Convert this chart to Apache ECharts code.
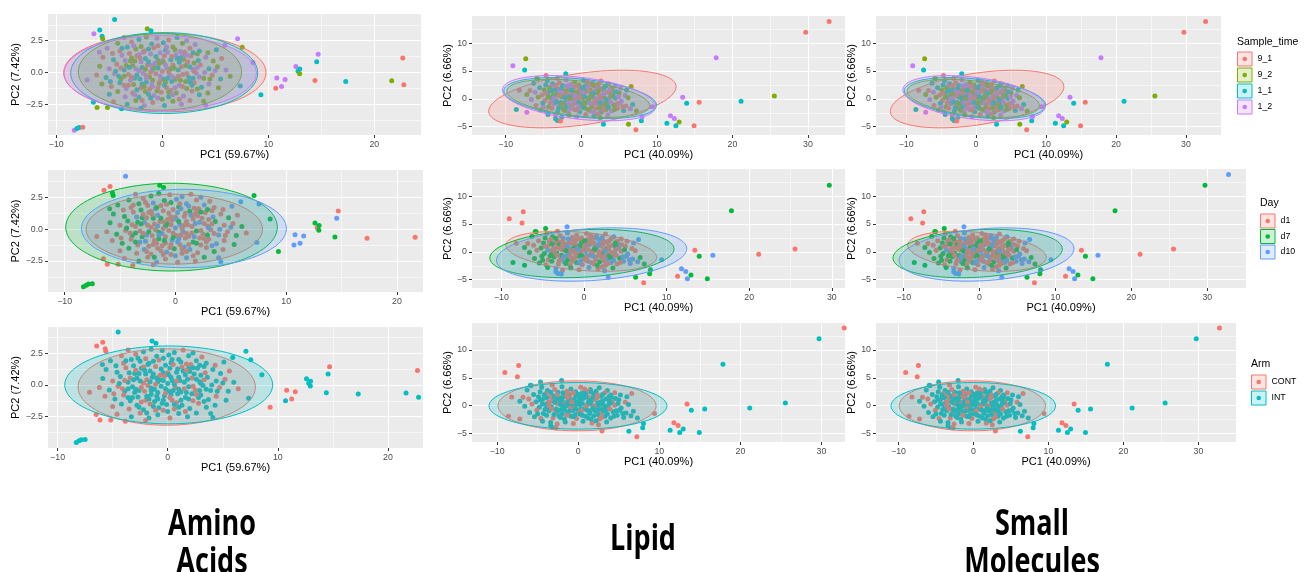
<!DOCTYPE html>
<html>
<head>
<meta charset="utf-8">
<script src="https://cdn.jsdelivr.net/npm/echarts@6.0.0/dist/echarts.min.js"></script>
<style>
html, body { margin: 0; padding: 0; background: #fff; }
#chart { width: 1307px; height: 572px; }
</style>
</head>
<body>
<div id="chart"></div>
<script>
// groups + ggplot default hues
const timeGroups = ['9_1', '9_2', '1_1', '1_2'];
const dayGroups = ['d1', 'd7', 'd10'];
const armGroups = ['CONT', 'INT'];
const timeColors = ['#F8766D', '#7CAE00', '#00BFC4', '#C77CFF'];
const dayColors = ['#F8766D', '#00BA38', '#619CFF'];
const armColors = ['#F8766D', '#00BFC4'];

// PCA scores: [PC1, PC2, sample_time, day, arm]
const aminoScores = [
  [-3.6, 2.75, 0,0,0], [-2.2, 2.6, 2,1,1], [-1.5, 2.8, 1,1,1], [-0.5, 2.7, 3,0,1], [0.6, 2.55, 0,2,1],
  [1.4, 2.75, 2,0,0], [2.3, 2.5, 3,2,1], [-4.2, 2.3, 1,1,0], [-2.9, 2.4, 0,0,0], [0.1, 2.35, 2,2,1],
  [1.9, 2.3, 1,0,1], [3.1, 2.2, 3,0,0], [-1.0, 2.25, 2,1,1], [-5.2, 1.9, 3,1,1], [-4.0, 1.7, 0,0,0],
  [-3.3, 2.0, 2,1,1], [-2.5, 1.85, 1,0,1], [-1.8, 1.6, 3,2,1], [-0.8, 1.95, 0,0,0], [0.3, 1.75, 2,1,1],
  [1.0, 2.0, 1,2,1], [1.7, 1.65, 3,0,0], [2.6, 1.9, 0,2,1], [3.5, 1.7, 2,0,1], [4.3, 1.55, 1,0,0],
  [-0.2, 1.55, 3,0,1], [5.1, 1.8, 2,2,1], [-5.6, 1.2, 0,1,1], [-4.6, 1.0, 2,1,1], [-3.8, 1.35, 3,0,0],
  [-3.0, 0.9, 1,1,1], [-2.4, 1.3, 0,0,1], [-1.6, 1.1, 2,2,1], [-1.1, 1.45, 3,0,0], [-0.4, 0.95, 1,0,1],
  [0.2, 1.3, 0,2,1], [0.8, 1.0, 2,0,1], [1.3, 1.4, 3,1,0], [2.0, 1.05, 1,0,1], [2.7, 1.3, 0,0,1],
  [3.4, 0.95, 2,2,0], [4.1, 1.2, 3,0,1], [4.8, 0.9, 1,1,1], [5.6, 1.1, 0,0,0], [-2.0, 0.85, 3,1,1],
  [1.6, 0.8, 2,0,1], [-5.9, 0.5, 1,1,1], [-5.0, 0.3, 3,0,0], [-4.3, 0.65, 0,1,1], [-3.6, 0.2, 2,0,1],
  [-2.8, 0.55, 1,2,1], [-2.2, 0.15, 3,0,0], [-1.4, 0.6, 0,0,1], [-0.9, 0.25, 2,1,1], [-0.3, 0.7, 1,0,0],
  [0.4, 0.35, 3,2,1], [1.0, 0.6, 0,0,1], [1.5, 0.2, 2,0,1], [2.2, 0.55, 1,2,0], [2.9, 0.25, 3,0,1],
  [3.6, 0.6, 0,1,1], [4.4, 0.3, 2,0,1], [5.2, 0.45, 1,0,0], [6.0, 0.2, 3,1,1], [0.0, 0.1, 0,2,1],
  [-1.9, 0.4, 2,0,0], [-6.2, -0.2, 0,0,0], [-5.3, -0.4, 2,1,1], [-4.5, -0.1, 3,0,0], [-3.9, -0.5, 1,1,1],
  [-3.2, -0.15, 0,0,1], [-2.6, -0.45, 2,2,1], [-1.8, -0.05, 3,0,0], [-1.2, -0.35, 1,2,1], [-0.6, -0.1, 0,0,1],
  [0.1, -0.5, 2,0,1], [0.7, -0.2, 3,2,0], [1.2, -0.55, 1,0,1], [1.9, -0.15, 0,1,1], [2.5, -0.4, 2,0,0],
  [3.2, -0.05, 3,0,1], [3.9, -0.45, 1,2,1], [4.7, -0.2, 0,0,0], [5.5, -0.5, 2,1,1], [6.4, -0.3, 1,0,0],
  [-0.2, -0.3, 3,0,1], [-5.7, -0.9, 1,0,0], [-4.8, -1.1, 0,1,1], [-4.0, -0.8, 2,0,0], [-3.4, -1.25, 3,0,1],
  [-2.7, -0.95, 1,2,1], [-2.0, -1.2, 0,0,0], [-1.5, -0.75, 2,1,1], [-0.9, -1.1, 3,0,1], [-0.3, -0.85, 1,2,1],
  [0.4, -1.2, 0,0,0], [0.9, -0.7, 2,0,1], [1.6, -1.0, 3,1,1], [2.3, -1.25, 1,0,0], [3.0, -0.8, 0,0,1],
  [3.7, -1.15, 2,2,1], [4.4, -0.9, 3,0,0], [5.3, -1.2, 1,1,1], [-1.2, -1.3, 0,0,1], [-5.0, -1.7, 2,0,0],
  [-4.2, -1.5, 1,1,1], [-3.5, -1.9, 3,0,0], [-2.8, -1.6, 0,2,1], [-2.2, -1.95, 2,0,1], [-1.6, -1.5, 1,0,0],
  [-0.8, -1.8, 3,2,1], [-0.1, -1.55, 0,1,1], [0.6, -1.9, 2,0,0], [1.3, -1.6, 1,2,1], [2.0, -1.85, 3,0,1],
  [2.8, -1.45, 0,0,0], [3.5, -1.75, 2,1,1], [4.3, -1.6, 1,0,1], [-0.4, -2.0, 3,0,0], [-4.6, -2.3, 0,0,0],
  [-3.3, -2.5, 2,1,1], [-2.5, -2.2, 1,0,0], [-1.7, -2.6, 3,2,1], [-0.9, -2.35, 0,0,1], [0.2, -2.6, 2,0,0],
  [1.0, -2.25, 1,2,1], [1.8, -2.5, 3,0,1], [2.6, -2.2, 0,1,1], [-2.0, -2.8, 2,0,0], [-2.6, 0.9, 1,0,1],
  [-1.7, 1.7, 0,1,1], [-0.6, 1.25, 2,0,1], [0.5, 1.6, 3,2,0], [1.1, 0.35, 1,0,1], [2.4, 0.85, 0,0,1],
  [-2.4, -0.2, 2,1,0], [-1.0, 0.55, 3,0,1], [0.3, -0.75, 1,2,1], [1.5, -0.3, 0,0,0], [2.8, -1.0, 2,0,1],
  [-3.0, -0.6, 3,1,1], [-0.5, -1.45, 1,0,1], [0.8, -1.4, 0,2,0], [-1.9, -0.9, 2,0,1], [1.9, 1.3, 3,0,1],
  [-3.4, 0.55, 1,1,0], [3.0, 0.1, 0,2,1], [-1.3, -1.7, 2,0,1], [0.0, 0.95, 3,0,0], [-0.7, 0.4, 1,1,1],
  [0.6, 0.05, 0,0,1], [1.4, 1.1, 2,2,1], [-2.2, 1.4, 3,0,0], [2.2, -0.7, 1,0,1], [-1.5, -0.25, 0,1,1],
  [-4.1, -0.3, 2,0,0], [4.0, 0.0, 3,2,1], [3.3, 1.45, 1,0,1], [-3.6, -1.0, 0,1,1],
  [-3.8, 1.9, 2,0,1], [-3.1, 1.5, 0,1,1], [-2.7, 2.1, 3,0,1], [-2.0, 2.05, 1,2,0], [-1.3, 1.85, 2,0,1],
  [-0.4, 2.1, 0,1,1], [0.4, 2.0, 3,0,1], [1.2, 1.8, 1,2,1], [2.1, 1.6, 0,0,0], [2.9, 1.55, 2,1,1],
  [-3.5, 0.95, 3,2,1], [-2.9, 1.15, 1,0,0], [-2.1, 1.15, 0,0,1], [-1.3, 0.85, 2,1,1], [-0.7, 0.75, 3,0,0],
  [0.1, 0.8, 1,2,1], [0.9, 1.25, 0,0,1], [1.7, 1.15, 2,0,0], [2.3, 1.35, 3,1,1], [3.0, 0.75, 1,0,1],
  [-3.9, 0.35, 0,0,0], [-3.1, 0.4, 2,1,1], [-2.5, 0.3, 3,0,1], [-1.6, 0.25, 1,2,1], [-1.1, 0.05, 0,0,0],
  [-0.4, 0.35, 2,0,1], [0.3, 0.6, 3,1,1], [0.8, 0.3, 1,0,0], [1.8, 0.45, 0,2,1], [2.6, 0.45, 2,0,1],
  [3.3, 0.4, 3,0,0], [-3.6, -0.3, 1,1,1], [-2.9, -0.35, 0,0,1], [-2.1, -0.5, 2,0,0], [-1.5, -0.45, 3,2,1],
  [-0.9, -0.6, 1,0,1], [-0.2, -0.65, 0,1,0], [0.5, -0.45, 2,0,1], [1.0, -0.35, 3,0,1], [1.7, -0.6, 1,2,1],
  [2.3, -0.1, 0,0,0], [2.9, -0.45, 2,1,1], [3.5, -0.35, 3,0,1], [-3.2, -1.0, 0,2,1], [-2.4, -1.35, 2,0,0],
  [-1.7, -1.1, 1,0,1], [-1.0, -0.9, 3,1,1], [-0.4, -1.2, 0,0,1], [0.2, -1.0, 2,2,0], [0.6, -1.55, 1,0,1],
  [1.2, -1.2, 3,0,1], [1.9, -1.1, 0,1,1], [2.6, -0.75, 2,0,0], [3.3, -1.3, 1,2,1], [-2.6, -1.75, 3,0,1],
  [-1.9, -2.2, 0,1,1], [-1.1, -2.0, 2,0,0], [0.0, -2.1, 1,2,1], [1.0, -1.75, 3,0,1], [1.6, -2.1, 0,0,0],
  [-4.4, 0.1, 2,1,1], [-4.7, 1.5, 0,0,1], [4.5, -0.5, 1,0,1], [5.0, 0.15, 3,2,1], [-4.9, -0.7, 2,0,0],
  // outlying samples
  [-4.5, 4.16, 2,2,1], [-6.45, 3.05, 3,0,0], [-5.9, 3.35, 2,0,0], [-5.68, 2.85, 2,1,0], [-5.62, 2.65, 1,1,0],
  [-1.42, 3.45, 1,1,1], [-1.07, 3.28, 2,1,1], [7.1, 2.65, 3,1,1], [7.54, 1.98, 1,2,1], [5.9, 2.15, 3,2,1],
  [8.55, 0.79, 3,1,1], [9.3, -1.75, 2,1,0], [10.8, -0.43, 3,2,0], [10.7, -1.24, 0,2,1], [11.25, -1.1, 3,2,0],
  [11.58, -0.54, 3,2,0], [12.6, 0.48, 3,1,1], [12.8, 0.12, 2,0,1], [12.97, 0.28, 2,1,1], [12.95, -0.09, 1,1,1],
  [14.4, -0.62, 0,1,1], [14.56, 0.85, 2,2,1], [14.7, 1.43, 3,0,0], [17.3, -0.71, 2,0,1], [21.64, -0.64, 1,0,1],
  [22.68, 1.14, 0,0,0], [22.78, -0.97, 0,0,1], [-8.3, -4.53, 3,1,1], [-8.05, -4.4, 2,1,1], [-7.85, -4.32, 2,1,1],
  [-7.5, -4.3, 0,1,1], [-7.1, -0.58, 3,0,0], [-6.5, -2.33, 2,0,0], [-6.15, -2.75, 1,0,0], [-5.17, -2.75, 1,0,0],
  [-3.85, -2.85, 2,0,0], [-5.93, 1.6, 3,1,1], [7.35, -1.05, 2,2,1], [3.9, -2.25, 1,2,1], [4.1, -2.57, 3,2,1]
];

const lipidScores = [
  [-5.8, 3.6, 1,1,1], [-4.5, 3.3, 2,0,1], [-3.2, 3.7, 0,0,0], [-2.0, 3.4, 3,2,1], [-0.9, 3.0, 1,0,1],
  [0.3, 3.3, 2,0,0], [1.5, 2.9, 3,2,1], [2.6, 3.2, 0,0,1], [-3.8, 2.7, 2,1,1], [-1.4, 2.6, 3,0,0],
  [0.9, 2.6, 1,0,1], [3.6, 2.7, 0,2,1], [4.5, 2.3, 3,0,0], [-6.3, 2.8, 2,1,1], [-6.8, 1.5, 0,0,0],
  [-5.5, 2.0, 2,0,1], [-4.9, 1.6, 1,1,1], [-4.0, 2.2, 3,0,0], [-3.1, 1.8, 0,0,1], [-2.5, 2.4, 2,2,1],
  [-1.8, 1.6, 1,0,1], [-1.0, 2.1, 3,0,0], [-0.3, 1.7, 0,1,1], [0.5, 2.3, 2,0,1], [1.2, 1.6, 1,0,0],
  [2.0, 2.2, 3,2,1], [2.8, 1.7, 0,0,1], [3.3, 2.3, 2,0,0], [4.1, 1.5, 1,2,1], [5.2, 1.9, 3,0,1],
  [-2.9, 2.9, 0,0,0], [6.0, 1.6, 2,2,1], [-7.2, 0.8, 1,1,1], [-6.1, 1.2, 3,0,0], [-5.2, 0.7, 0,1,1],
  [-4.4, 1.1, 2,0,1], [-3.7, 0.6, 1,0,0], [-3.0, 1.3, 3,1,1], [-2.3, 0.9, 0,0,1], [-1.6, 0.5, 2,2,1],
  [-0.8, 1.2, 1,0,0], [-0.1, 0.7, 3,0,1], [0.6, 1.3, 0,2,1], [1.3, 0.8, 2,0,1], [2.0, 1.1, 1,0,0],
  [2.7, 0.6, 3,1,1], [3.4, 1.2, 0,0,1], [4.2, 0.7, 2,2,0], [5.0, 1.0, 1,0,1], [5.8, 0.6, 3,0,0],
  [-1.2, 1.0, 0,1,1], [0.2, 0.6, 2,0,1], [-6.6, -0.1, 3,1,1], [-5.7, 0.3, 1,0,0], [-4.8, -0.3, 0,1,1],
  [-4.0, 0.2, 2,0,1], [-3.3, -0.2, 3,1,1], [-2.6, 0.4, 1,0,0], [-1.9, -0.1, 0,2,1], [-1.2, 0.3, 2,0,1],
  [-0.5, -0.3, 3,0,0], [0.2, 0.1, 1,2,1], [0.9, -0.4, 0,0,1], [1.6, 0.3, 2,0,1], [2.3, -0.2, 3,1,0],
  [3.0, 0.4, 1,0,1], [3.7, -0.3, 0,2,1], [4.5, 0.1, 2,0,0], [5.3, -0.4, 3,2,1], [6.2, 0.2, 1,0,1],
  [-0.9, 0.0, 0,0,1], [1.1, 0.2, 2,1,0], [-6.0, -1.2, 0,1,1], [-5.1, -0.8, 2,1,0], [-4.3, -1.4, 1,0,1],
  [-3.6, -0.9, 3,1,1], [-2.8, -1.2, 0,0,0], [-2.1, -0.7, 2,2,1], [-1.4, -1.3, 1,0,1], [-0.7, -0.8, 3,1,1],
  [0.0, -1.1, 0,0,0], [0.7, -0.6, 2,2,1], [1.4, -1.4, 1,0,1], [2.1, -0.9, 3,0,1], [2.8, -1.3, 0,2,0],
  [3.5, -0.7, 2,0,1], [4.3, -1.1, 1,1,1], [5.1, -0.8, 3,2,1], [5.9, -1.3, 0,2,1], [6.8, -1.0, 2,1,1],
  [-5.4, -2.0, 1,1,1], [-4.6, -2.3, 3,0,0], [-3.9, -1.7, 0,1,1], [-3.1, -2.2, 2,0,0], [-2.4, -1.8, 1,2,1],
  [-1.7, -2.4, 3,0,1], [-0.9, -1.9, 0,1,1], [-0.2, -2.3, 2,0,0], [0.5, -1.7, 1,2,1], [1.2, -2.2, 3,0,1],
  [1.9, -1.8, 0,1,1], [2.6, -2.4, 2,0,0], [3.3, -1.9, 1,2,1], [4.0, -2.2, 3,0,1], [4.8, -1.7, 0,2,1],
  [5.6, -2.1, 2,2,1], [6.5, -1.8, 3,2,1], [7.3, -2.2, 1,1,1], [-3.4, -3.0, 0,2,1], [-2.6, -3.3, 2,0,0],
  [-1.6, -2.9, 1,1,1], [-0.6, -3.2, 3,0,0], [0.6, -2.8, 0,2,1], [1.7, -3.1, 2,0,0], [2.5, -3.4, 1,2,0],
  [3.5, -2.9, 3,1,1], [-4.4, -2.8, 2,1,1], [2.2, -2.7, 0,0,1], [-2.2, 1.4, 1,0,1], [-1.5, 2.0, 3,0,0],
  [-0.6, 0.4, 0,2,1], [0.4, 1.8, 2,0,1], [1.0, -0.1, 1,0,0], [1.8, 1.5, 3,2,1], [2.4, 0.5, 0,0,1],
  [-2.7, -0.6, 2,1,1], [-1.0, -0.5, 3,0,0], [0.3, -0.7, 1,2,1], [1.5, -0.9, 0,0,1], [-3.5, 1.6, 2,0,0],
  [3.0, -0.6, 3,1,1], [-0.3, 2.5, 1,0,1], [2.2, 2.6, 0,2,1], [-1.9, 0.7, 2,0,0], [-3.9, -0.5, 3,1,1],
  [4.0, 1.9, 1,0,1], [0.8, 3.0, 0,0,0], [-4.7, 2.5, 2,1,1], [-0.4, -1.6, 3,2,1], [2.4, -1.6, 1,0,1],
  [1.3, 2.6, 0,0,0], [-2.0, -1.5, 2,1,1], [3.8, 0.4, 3,0,1],
  [-4.2, 1.9, 1,0,1], [-3.4, 2.4, 0,1,1], [-2.6, 1.9, 2,0,0], [-1.9, 2.3, 3,2,1], [-1.2, 1.6, 1,0,1],
  [-0.6, 2.3, 0,0,0], [0.1, 2.0, 2,1,1], [0.9, 2.1, 3,0,1], [1.6, 2.4, 1,2,1], [2.4, 1.9, 0,0,0],
  [3.0, 2.0, 2,0,1], [3.8, 1.6, 3,1,1], [-4.7, 1.0, 0,0,1], [-3.9, 1.4, 2,1,1], [-3.3, 0.8, 1,0,0],
  [-2.6, 1.2, 3,0,1], [-2.0, 1.0, 0,2,1], [-1.3, 1.5, 2,0,0], [-0.5, 1.0, 1,1,1], [0.2, 1.2, 3,0,1],
  [0.9, 1.5, 0,0,1], [1.6, 1.0, 2,2,1], [2.3, 1.4, 1,0,0], [3.0, 0.9, 3,0,1], [3.8, 1.1, 0,1,1],
  [4.6, 1.3, 2,0,1], [-4.4, 0.3, 1,2,1], [-3.6, 0.1, 3,0,0], [-2.9, 0.6, 0,0,1], [-2.2, 0.2, 2,1,1],
  [-1.5, 0.0, 1,0,1], [-0.8, 0.6, 3,2,0], [-0.2, 0.3, 0,0,1], [0.5, 0.4, 2,0,1], [1.3, 0.5, 1,1,1],
  [1.9, 0.0, 3,0,0], [2.6, 0.1, 0,2,1], [3.3, -0.1, 2,0,1], [4.0, 0.5, 1,0,1], [4.9, 0.4, 3,1,1],
  [-4.1, -0.7, 0,1,1], [-3.3, -0.6, 2,0,0], [-2.5, -0.9, 1,2,1], [-1.7, -0.7, 3,0,1], [-1.1, -1.0, 0,0,1],
  [-0.3, -0.6, 2,1,1], [0.4, -0.9, 1,0,0], [1.1, -0.8, 3,2,1], [1.8, -0.4, 0,0,1], [2.5, -0.7, 2,0,1],
  [3.2, -1.0, 1,1,1], [3.9, -0.6, 3,0,0], [4.7, -0.9, 0,2,1], [-3.0, -1.6, 2,0,1], [-2.2, -2.1, 1,1,1],
  [-1.4, -1.7, 3,0,0], [-0.6, -2.0, 0,2,1], [0.2, -1.5, 2,0,1], [0.9, -1.9, 1,0,1], [1.6, -2.4, 3,1,1],
  [2.9, -2.1, 0,0,0], [3.6, -1.5, 2,2,1], [4.4, -1.9, 1,0,1], [-5.0, -1.5, 3,1,1], [5.5, -1.4, 0,2,1],
  // outlying samples
  [32.8, 13.9, 0,2,0], [29.7, 12.0, 0,1,1], [17.85, 7.4, 3,1,1], [-7.35, 7.2, 1,0,0], [-9.05, 5.95, 3,0,0],
  [-7.5, 5.18, 2,0,0], [-4.65, 4.22, 0,1,1], [-2.05, 4.5, 2,2,1], [25.55, 0.5, 1,0,1], [21.15, -0.42, 2,0,1],
  [15.6, -0.6, 0,2,1], [13.95, -0.8, 2,1,1], [13.42, 0.3, 3,0,0], [11.8, -3.04, 3,2,0], [12.32, -3.53, 3,2,0],
  [12.95, -4.16, 1,1,1], [11.33, -4.4, 2,0,1], [12.52, -4.82, 2,2,1], [14.93, -4.82, 0,1,1], [7.23, -5.56, 0,0,0],
  [6.25, -4.58, 1,1,1], [2.93, -4.55, 2,2,0], [7.95, -3.95, 2,1,1], [8.05, -3.2, 3,1,1], [9.4, -1.4, 3,2,0],
  [6.6, 2.2, 1,2,0], [-8.6, -1.9, 2,1,0], [-8.2, 1.55, 0,0,0], [-7.2, -2.4, 3,1,0], [-3.15, -3.9, 2,2,1],
  [-2.75, -4.0, 0,2,0], [-5.9, 3.65, 1,1,1], [-3.4, -3.6, 2,2,1]
];

// 95% ellipses per grouping: [cx, cy, ax, ay, bx, by] (conjugate semi-axes)
const aminoTimeEllipses = [[0.24, -0.01, 9.54, 0, 0, 3.08], [-0.22, 0.05, 7.7, 0, 0, 3.01], [0.18, -0.04, 8.82, 0, 0, 3.18], [-0.2, -0.05, 9.07, 0, 0, 2.95]];
const aminoDayEllipses = [[-0.1, 0.0, 7.96, 0, 0, 2.75], [-0.35, 0.16, 9.55, 0, 0, 3.45], [0.77, 0.05, 9.25, 0, 0, 3.08]];
const aminoArmEllipses = [[-0.09, -0.17, 8.05, 0, 0, 3.0], [0.09, 0.0, 9.44, 0, 0, 3.06]];
const lipidTimeEllipses = [[0.15, -0.03, 12.4, 2.2, 0, 4.69], [-0.4, 0.08, 9.45, -1.3, 0, 3.17], [-0.15, 0.15, 10.1, -1.3, 0, 3.44], [-0.3, 0.12, 10.15, -1.5, 0, 3.78]];
const lipidDayEllipses = [[-0.33, 0.1, 9.13, -1.1, 0, 3.43], [-0.25, -0.3, 11.15, 0.81, 0, 4.27], [0.92, -0.48, 11.52, 1.05, 0, 4.68]];
const lipidArmEllipses = [[-0.15, -0.03, 9.75, 0, 0, 4.47], [-0.03, -0.03, 10.97, 0, 0, 4.17]];

// tick breaks
const aminoXTicks = [-10, 0, 10, 20];
const aminoYTicks = [-2.5, 0, 2.5];
const aminoXMinor = [-5, 5, 15];
const aminoYMinor = [-3.75, -1.25, 1.25, 3.75];
const lipidXTicks = [-10, 0, 10, 20, 30];
const lipidYTicks = [-5, 0, 5, 10];
const lipidXMinor = [-5, 5, 15, 25];
const lipidYMinor = [-2.5, 2.5, 7.5, 12.5];

const FONT = '"Liberation Sans", Arial, sans-serif';

const sets = {
  amino: { scores: aminoScores, xt: aminoXTicks, yt: aminoYTicks, xm: aminoXMinor, ym: aminoYMinor, yDigits: 1,
           xName: 'PC1 (59.67%)', yName: 'PC2 (7.42%)', ell: { time: aminoTimeEllipses, day: aminoDayEllipses, arm: aminoArmEllipses } },
  lipid: { scores: lipidScores, xt: lipidXTicks, yt: lipidYTicks, xm: lipidXMinor, ym: lipidYMinor, yDigits: 0,
           xName: 'PC1 (40.09%)', yName: 'PC2 (6.66%)', ell: { time: lipidTimeEllipses, day: lipidDayEllipses, arm: lipidArmEllipses } }
};
const groupings = {
  time: { col: 2, colors: timeColors },
  day: { col: 3, colors: dayColors },
  arm: { col: 4, colors: armColors }
};

// panel layout: grid rect [left, top, width, height], axis ranges
const panels = [
  { rect: [48, 14, 373, 121], x: [-10.78, 24.4], y: [-4.91, 4.6], set: 'amino', by: 'time', yGap: 25 },
  { rect: [472, 16, 373, 119], x: [-14.46, 34.9], y: [-6.5, 14.9], set: 'lipid', by: 'time', yGap: 17 },
  { rect: [876, 16, 345, 119], x: [-14.3, 35.0], y: [-6.5, 14.9], set: 'lipid', by: 'time', yGap: 16 },
  { rect: [48, 170, 375, 122], x: [-11.5, 22.35], y: [-4.94, 4.65], set: 'amino', by: 'day', yGap: 25 },
  { rect: [472, 169, 373, 119], x: [-13.56, 31.6], y: [-6.5, 14.9], set: 'lipid', by: 'day', yGap: 17 },
  { rect: [876, 169, 370, 119], x: [-13.64, 35.1], y: [-6.5, 14.9], set: 'lipid', by: 'day', yGap: 16 },
  { rect: [48, 327, 375, 121], x: [-10.87, 23.18], y: [-4.96, 4.55], set: 'amino', by: 'arm', yGap: 25 },
  { rect: [472, 323, 373, 119], x: [-13.1, 32.9], y: [-6.5, 14.8], set: 'lipid', by: 'arm', yGap: 17 },
  { rect: [876, 323, 360, 119], x: [-13.0, 35.0], y: [-6.5, 14.8], set: 'lipid', by: 'arm', yGap: 16 }
];

function fmtNum(v, digits) {
  const s = Math.abs(v).toFixed(digits);
  return v < 0 ? '\u2212' + s : s;
}
function rgba(hex, a) {
  const n = parseInt(hex.slice(1), 16);
  return 'rgba(' + (n >> 16) + ',' + ((n >> 8) & 255) + ',' + (n & 255) + ',' + a + ')';
}

function majorAxis(gi, range, ticks, digits, name, gap) {
  return {
    type: 'value', gridIndex: gi, min: range[0], max: range[1],
    name: name, nameLocation: 'middle', nameGap: gap,
    nameTextStyle: { color: '#000', fontSize: 11, fontFamily: FONT },
    axisLine: { show: false, onZero: false },
    axisTick: { show: true, length: 3, lineStyle: { color: '#333', width: 1 }, customValues: ticks },
    axisLabel: { color: '#4D4D4D', fontSize: 8.8, fontFamily: FONT, margin: 5, customValues: ticks,
                 formatter: v => fmtNum(v, digits) },
    splitLine: { show: true, lineStyle: { color: '#FFFFFF', width: 1.1 } }
  };
}
function minorAxis(gi, range, ticks) {
  return {
    type: 'value', gridIndex: gi, min: range[0], max: range[1],
    axisLine: { show: false, onZero: false },
    axisTick: { show: false, customValues: ticks },
    axisLabel: { show: false, customValues: ticks },
    splitLine: { show: true, lineStyle: { color: '#FFFFFF', width: 0.55 } }
  };
}

function ellipseSeries(p, e, color) {
  return {
    type: 'custom', xAxisIndex: 2 * p, yAxisIndex: 2 * p, z: 3, silent: true, clip: true,
    data: [e],
    renderItem: function (params, api) {
      const pts = [];
      for (let k = 0; k < 96; k++) {
        const t = k / 96 * Math.PI * 2;
        pts.push(api.coord([
          api.value(0) + api.value(2) * Math.cos(t) + api.value(4) * Math.sin(t),
          api.value(1) + api.value(3) * Math.cos(t) + api.value(5) * Math.sin(t)
        ]));
      }
      return { type: 'polygon', shape: { points: pts },
               style: { fill: rgba(color, 0.2), stroke: color, lineWidth: 1 } };
    }
  };
}

const grid = [], xAxis = [], yAxis = [], series = [];
panels.forEach((pn, p) => {
  const ds = sets[pn.set], gp = groupings[pn.by];
  grid.push({ left: pn.rect[0], top: pn.rect[1], width: pn.rect[2], height: pn.rect[3],
              show: true, backgroundColor: '#EBEBEB', borderWidth: 0, outerBoundsMode: 'none' });
  xAxis.push(majorAxis(p, pn.x, ds.xt, 0, ds.xName, 14));
  xAxis.push(minorAxis(p, pn.x, ds.xm));
  yAxis.push(majorAxis(p, pn.y, ds.yt, ds.yDigits, ds.yName, pn.yGap));
  yAxis.push(minorAxis(p, pn.y, ds.ym));
  series.push({
    type: 'scatter', xAxisIndex: 2 * p, yAxisIndex: 2 * p, z: 2, clip: true, silent: true,
    symbolSize: 5,
    data: ds.scores.map(r => ({ value: [r[0], r[1]], itemStyle: { color: gp.colors[r[gp.col]], opacity: 1 } }))
  });
  ds.ell[pn.by].forEach((e, g) => series.push(ellipseSeries(p, e, gp.colors[g])));
});

// legends (ggplot-style keys) and bottom titles
const legends = [
  { title: 'Sample_time', names: timeGroups, colors: timeColors, x: 1237, titleY: 42, rows: [59, 75, 91, 107] },
  { title: 'Day', names: dayGroups, colors: dayColors, x: 1260, titleY: 203, rows: [221, 236.5, 252] },
  { title: 'Arm', names: armGroups, colors: armColors, x: 1251, titleY: 364, rows: [382, 398] }
];
const graphic = [];
legends.forEach(lg => {
  graphic.push({ type: 'text', x: lg.x, y: lg.titleY, silent: true,
    style: { text: lg.title, fill: '#000', font: '10.5px ' + FONT, textAlign: 'left', verticalAlign: 'middle' } });
  lg.names.forEach((nm, i) => {
    const cy = lg.rows[i], c = lg.colors[i];
    graphic.push({ type: 'rect', silent: true, shape: { x: lg.x + 0.5, y: cy - 7, width: 14.5, height: 14 },
      style: { fill: rgba(c, 0.2), stroke: c, lineWidth: 1 } });
    graphic.push({ type: 'circle', silent: true, shape: { cx: lg.x + 7.75, cy: cy, r: 2.3 }, style: { fill: c } });
    graphic.push({ type: 'text', x: lg.x + 20.5, y: cy, silent: true,
      style: { text: nm, fill: '#000', font: '8.8px ' + FONT, textAlign: 'left', verticalAlign: 'middle' } });
  });
});
const titles = [['Amino', 212, 525], ['Acids', 212, 563], ['Lipid', 643, 540], ['Small', 1032, 525], ['Molecules', 1032, 563]];
titles.forEach(t => {
  graphic.push({ type: 'text', x: t[1], y: t[2], scaleX: 0.75, silent: true,
    style: { text: t[0], fill: '#000', font: 'bold 36px "Open Sans", sans-serif', textAlign: 'center', verticalAlign: 'middle' } });
});

const chart = echarts.init(document.getElementById('chart'));
chart.setOption({
  animation: false,
  backgroundColor: '#FFFFFF',
  grid: grid,
  xAxis: xAxis,
  yAxis: yAxis,
  series: series,
  graphic: graphic
});
</script>
</body>
</html>
